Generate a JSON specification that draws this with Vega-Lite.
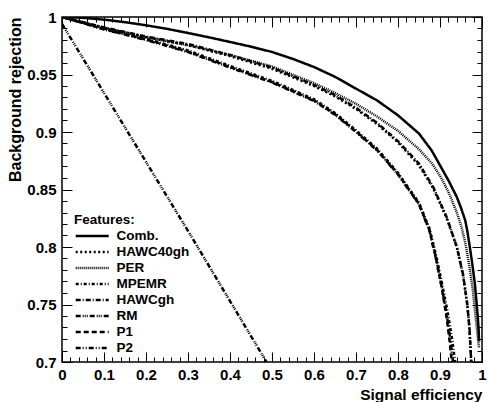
{
  "$schema": "https://vega.github.io/schema/vega-lite/v6.json",
  "autosize": {"type": "none"},
  "width": 420,
  "height": 345,
  "padding": {"left": 62, "top": 17, "right": 7, "bottom": 40},
  "background": "white",
  "config": {
    "font": "Liberation Sans",
    "view": {"stroke": "black", "strokeWidth": 1.5},
    "axis": {"domain": false, "grid": false, "tickColor": "black", "tickWidth": 1, "labelColor": "black", "titleColor": "black", "labelFont": "Liberation Sans", "labelFontWeight": "bold", "labelFontSize": 15, "titleFont": "Liberation Sans", "titleFontWeight": "bold", "titleFontSize": 15.5}
  },
  "datasets": {
    "curves": [
      {"f": "Comb.", "x": 0, "y": 1.0}, {"f": "Comb.", "x": 0.05, "y": 0.9993}, {"f": "Comb.", "x": 0.1, "y": 0.9977}, {"f": "Comb.", "x": 0.15, "y": 0.9955}, {"f": "Comb.", "x": 0.2, "y": 0.9928}, {"f": "Comb.", "x": 0.25, "y": 0.9897}, {"f": "Comb.", "x": 0.3, "y": 0.9861}, {"f": "Comb.", "x": 0.35, "y": 0.9823}, {"f": "Comb.", "x": 0.4, "y": 0.9783}, {"f": "Comb.", "x": 0.45, "y": 0.9742}, {"f": "Comb.", "x": 0.5, "y": 0.9696}, {"f": "Comb.", "x": 0.55, "y": 0.9635}, {"f": "Comb.", "x": 0.6, "y": 0.9565}, {"f": "Comb.", "x": 0.65, "y": 0.948}, {"f": "Comb.", "x": 0.7, "y": 0.9377}, {"f": "Comb.", "x": 0.75, "y": 0.9275}, {"f": "Comb.", "x": 0.8, "y": 0.9145}, {"f": "Comb.", "x": 0.85, "y": 0.8986}, {"f": "Comb.", "x": 0.88, "y": 0.884}, {"f": "Comb.", "x": 0.9, "y": 0.871}, {"f": "Comb.", "x": 0.92, "y": 0.858}, {"f": "Comb.", "x": 0.94, "y": 0.8435}, {"f": "Comb.", "x": 0.95, "y": 0.834}, {"f": "Comb.", "x": 0.96, "y": 0.8232}, {"f": "Comb.", "x": 0.965, "y": 0.814}, {"f": "Comb.", "x": 0.971, "y": 0.8}, {"f": "Comb.", "x": 0.977, "y": 0.785}, {"f": "Comb.", "x": 0.983, "y": 0.768}, {"f": "Comb.", "x": 0.987, "y": 0.752}, {"f": "Comb.", "x": 0.99, "y": 0.739}, {"f": "Comb.", "x": 0.992, "y": 0.728}, {"f": "Comb.", "x": 0.993, "y": 0.718},

      {"f": "HAWC40gh", "x": 0, "y": 1.0}, {"f": "HAWC40gh", "x": 0.05, "y": 0.995}, {"f": "HAWC40gh", "x": 0.1, "y": 0.9905}, {"f": "HAWC40gh", "x": 0.2, "y": 0.9825}, {"f": "HAWC40gh", "x": 0.3, "y": 0.9755}, {"f": "HAWC40gh", "x": 0.4, "y": 0.966}, {"f": "HAWC40gh", "x": 0.5, "y": 0.955}, {"f": "HAWC40gh", "x": 0.6, "y": 0.94}, {"f": "HAWC40gh", "x": 0.65, "y": 0.931}, {"f": "HAWC40gh", "x": 0.7, "y": 0.92}, {"f": "HAWC40gh", "x": 0.75, "y": 0.907}, {"f": "HAWC40gh", "x": 0.8, "y": 0.891}, {"f": "HAWC40gh", "x": 0.85, "y": 0.871}, {"f": "HAWC40gh", "x": 0.884, "y": 0.851}, {"f": "HAWC40gh", "x": 0.916, "y": 0.825}, {"f": "HAWC40gh", "x": 0.94, "y": 0.8}, {"f": "HAWC40gh", "x": 0.955, "y": 0.775}, {"f": "HAWC40gh", "x": 0.965, "y": 0.75}, {"f": "HAWC40gh", "x": 0.97, "y": 0.73}, {"f": "HAWC40gh", "x": 0.973, "y": 0.71}, {"f": "HAWC40gh", "x": 0.9745, "y": 0.7},

      {"f": "PER", "x": 0, "y": 1.0}, {"f": "PER", "x": 0.05, "y": 0.9955}, {"f": "PER", "x": 0.1, "y": 0.9905}, {"f": "PER", "x": 0.2, "y": 0.9825}, {"f": "PER", "x": 0.3, "y": 0.9755}, {"f": "PER", "x": 0.4, "y": 0.967}, {"f": "PER", "x": 0.5, "y": 0.957}, {"f": "PER", "x": 0.6, "y": 0.9425}, {"f": "PER", "x": 0.65, "y": 0.934}, {"f": "PER", "x": 0.7, "y": 0.9245}, {"f": "PER", "x": 0.75, "y": 0.9135}, {"f": "PER", "x": 0.8, "y": 0.901}, {"f": "PER", "x": 0.85, "y": 0.885}, {"f": "PER", "x": 0.88, "y": 0.873}, {"f": "PER", "x": 0.9, "y": 0.862}, {"f": "PER", "x": 0.92, "y": 0.848}, {"f": "PER", "x": 0.94, "y": 0.83}, {"f": "PER", "x": 0.95, "y": 0.819}, {"f": "PER", "x": 0.96, "y": 0.804}, {"f": "PER", "x": 0.97, "y": 0.783}, {"f": "PER", "x": 0.978, "y": 0.763}, {"f": "PER", "x": 0.984, "y": 0.742}, {"f": "PER", "x": 0.989, "y": 0.725}, {"f": "PER", "x": 0.993, "y": 0.712},

      {"f": "MPEMR", "x": 0, "y": 1.0}, {"f": "MPEMR", "x": 0.05, "y": 0.995}, {"f": "MPEMR", "x": 0.1, "y": 0.99}, {"f": "MPEMR", "x": 0.2, "y": 0.981}, {"f": "MPEMR", "x": 0.3, "y": 0.971}, {"f": "MPEMR", "x": 0.4, "y": 0.9575}, {"f": "MPEMR", "x": 0.5, "y": 0.9445}, {"f": "MPEMR", "x": 0.6, "y": 0.9285}, {"f": "MPEMR", "x": 0.65, "y": 0.9165}, {"f": "MPEMR", "x": 0.7, "y": 0.9015}, {"f": "MPEMR", "x": 0.75, "y": 0.8855}, {"f": "MPEMR", "x": 0.8, "y": 0.8645}, {"f": "MPEMR", "x": 0.85, "y": 0.8385}, {"f": "MPEMR", "x": 0.875, "y": 0.816}, {"f": "MPEMR", "x": 0.89, "y": 0.794}, {"f": "MPEMR", "x": 0.905, "y": 0.768}, {"f": "MPEMR", "x": 0.918, "y": 0.744}, {"f": "MPEMR", "x": 0.928, "y": 0.722}, {"f": "MPEMR", "x": 0.936, "y": 0.7},

      {"f": "HAWCgh", "x": 0, "y": 1.0}, {"f": "HAWCgh", "x": 0.05, "y": 0.9955}, {"f": "HAWCgh", "x": 0.1, "y": 0.991}, {"f": "HAWCgh", "x": 0.2, "y": 0.983}, {"f": "HAWCgh", "x": 0.3, "y": 0.9765}, {"f": "HAWCgh", "x": 0.4, "y": 0.967}, {"f": "HAWCgh", "x": 0.5, "y": 0.956}, {"f": "HAWCgh", "x": 0.6, "y": 0.941}, {"f": "HAWCgh", "x": 0.65, "y": 0.932}, {"f": "HAWCgh", "x": 0.7, "y": 0.921}, {"f": "HAWCgh", "x": 0.75, "y": 0.908}, {"f": "HAWCgh", "x": 0.8, "y": 0.892}, {"f": "HAWCgh", "x": 0.85, "y": 0.8725}, {"f": "HAWCgh", "x": 0.884, "y": 0.852}, {"f": "HAWCgh", "x": 0.916, "y": 0.826}, {"f": "HAWCgh", "x": 0.94, "y": 0.8}, {"f": "HAWCgh", "x": 0.955, "y": 0.776}, {"f": "HAWCgh", "x": 0.965, "y": 0.75}, {"f": "HAWCgh", "x": 0.97, "y": 0.73}, {"f": "HAWCgh", "x": 0.973, "y": 0.71}, {"f": "HAWCgh", "x": 0.974, "y": 0.7},

      {"f": "RM", "x": 0, "y": 0.994}, {"f": "RM", "x": 0.1, "y": 0.934}, {"f": "RM", "x": 0.2, "y": 0.874}, {"f": "RM", "x": 0.3, "y": 0.814}, {"f": "RM", "x": 0.4, "y": 0.753}, {"f": "RM", "x": 0.487, "y": 0.7},

      {"f": "P1", "x": 0, "y": 1.0}, {"f": "P1", "x": 0.05, "y": 0.9948}, {"f": "P1", "x": 0.1, "y": 0.9895}, {"f": "P1", "x": 0.2, "y": 0.9805}, {"f": "P1", "x": 0.3, "y": 0.97}, {"f": "P1", "x": 0.4, "y": 0.9565}, {"f": "P1", "x": 0.5, "y": 0.9435}, {"f": "P1", "x": 0.6, "y": 0.9275}, {"f": "P1", "x": 0.65, "y": 0.9155}, {"f": "P1", "x": 0.7, "y": 0.9005}, {"f": "P1", "x": 0.75, "y": 0.8845}, {"f": "P1", "x": 0.8, "y": 0.8635}, {"f": "P1", "x": 0.85, "y": 0.8375}, {"f": "P1", "x": 0.875, "y": 0.8145}, {"f": "P1", "x": 0.89, "y": 0.791}, {"f": "P1", "x": 0.905, "y": 0.763}, {"f": "P1", "x": 0.916, "y": 0.738}, {"f": "P1", "x": 0.923, "y": 0.718}, {"f": "P1", "x": 0.928, "y": 0.7},

      {"f": "P2", "x": 0, "y": 1.0}, {"f": "P2", "x": 0.05, "y": 0.9946}, {"f": "P2", "x": 0.1, "y": 0.9892}, {"f": "P2", "x": 0.2, "y": 0.98}, {"f": "P2", "x": 0.3, "y": 0.9695}, {"f": "P2", "x": 0.4, "y": 0.956}, {"f": "P2", "x": 0.5, "y": 0.943}, {"f": "P2", "x": 0.6, "y": 0.927}, {"f": "P2", "x": 0.65, "y": 0.915}, {"f": "P2", "x": 0.7, "y": 0.9}, {"f": "P2", "x": 0.75, "y": 0.884}, {"f": "P2", "x": 0.8, "y": 0.863}, {"f": "P2", "x": 0.85, "y": 0.837}, {"f": "P2", "x": 0.875, "y": 0.814}, {"f": "P2", "x": 0.89, "y": 0.7905}, {"f": "P2", "x": 0.905, "y": 0.7635}, {"f": "P2", "x": 0.917, "y": 0.739}, {"f": "P2", "x": 0.925, "y": 0.719}, {"f": "P2", "x": 0.931, "y": 0.7}
    ]
  },
  "layer": [
    {
      "data": {"name": "curves"},
      "mark": {"type": "line", "color": "black", "strokeWidth": 2.5, "clip": true},
      "encoding": {
        "x": {"field": "x", "type": "quantitative", "scale": {"domain": [0, 1], "nice": false, "zero": false},
          "axis": {"orient": "bottom", "values": [0, 0.1, 0.2, 0.3, 0.4, 0.5, 0.6, 0.7, 0.8, 0.9, 1], "format": ".1~f", "tickSize": -10, "labelPadding": 15, "labelFlush": false, "title": "Signal efficiency", "titleAnchor": "end", "titleAlign": "right", "titlePadding": 5}},
        "y": {"field": "y", "type": "quantitative", "scale": {"domain": [0.7, 1], "nice": false, "zero": false},
          "axis": {"orient": "left", "values": [0.7, 0.75, 0.8, 0.85, 0.9, 0.95, 1], "format": ".2~f", "tickSize": -10, "labelPadding": 16, "labelFlush": false, "title": "Background rejection", "titleAnchor": "end", "titleAlign": "right", "titleFontSize": 16, "titlePadding": 3}},
        "strokeDash": {"field": "f", "type": "nominal",
          "scale": {"domain": ["Comb.", "HAWC40gh", "PER", "MPEMR", "HAWCgh", "RM", "P1", "P2"],
            "range": [[1, 0], [2, 2.5], [1, 1], [3, 2, 1, 2], [5, 2, 1, 2], [5, 2, 1, 1, 1, 1, 1, 2], [5, 3], [5, 2, 1, 2, 1, 2]]},
          "legend": {"orient": "none", "legendX": 12, "legendY": 196, "title": "Features:", "titleFont": "Liberation Sans", "titleFontSize": 13.5, "titleFontWeight": "bold", "titleColor": "black", "titlePadding": 0, "labelFont": "Liberation Sans", "labelFontSize": 13.5, "labelFontWeight": "bold", "labelColor": "black", "symbolType": "M-1,0H3.23", "symbolSize": 243, "symbolStrokeWidth": 2.5, "symbolStrokeColor": "black", "labelOffset": 23.4, "rowPadding": 0, "padding": 0}}
      }
    },
    {
      "data": {"name": "curves"},
      "mark": {"type": "line", "strokeOpacity": 0},
      "encoding": {
        "x": {"field": "x", "type": "quantitative", "axis": {"orient": "bottom", "values": [0.02, 0.04, 0.06, 0.08, 0.12, 0.14, 0.16, 0.18, 0.22, 0.24, 0.26, 0.28, 0.32, 0.34, 0.36, 0.38, 0.42, 0.44, 0.46, 0.48, 0.52, 0.54, 0.56, 0.58, 0.62, 0.64, 0.66, 0.68, 0.72, 0.74, 0.76, 0.78, 0.82, 0.84, 0.86, 0.88, 0.92, 0.94, 0.96, 0.98], "tickSize": -5, "labels": false, "title": null}},
        "y": {"field": "y", "type": "quantitative", "axis": {"orient": "left", "values": [0.71, 0.72, 0.73, 0.74, 0.76, 0.77, 0.78, 0.79, 0.81, 0.82, 0.83, 0.84, 0.86, 0.87, 0.88, 0.89, 0.91, 0.92, 0.93, 0.94, 0.96, 0.97, 0.98, 0.99], "tickSize": -5, "labels": false, "title": null}}
      }
    },
    {
      "data": {"name": "curves"},
      "mark": {"type": "line", "strokeOpacity": 0},
      "encoding": {
        "x": {"field": "x", "type": "quantitative", "axis": {"orient": "top", "values": [0, 0.1, 0.2, 0.3, 0.4, 0.5, 0.6, 0.7, 0.8, 0.9, 1], "tickSize": -10, "labels": false, "title": null}},
        "y": {"field": "y", "type": "quantitative", "axis": {"orient": "right", "values": [0.7, 0.75, 0.8, 0.85, 0.9, 0.95, 1], "tickSize": -10, "labels": false, "title": null}}
      }
    },
    {
      "data": {"name": "curves"},
      "mark": {"type": "line", "strokeOpacity": 0},
      "encoding": {
        "x": {"field": "x", "type": "quantitative", "axis": {"orient": "top", "values": [0.02, 0.04, 0.06, 0.08, 0.12, 0.14, 0.16, 0.18, 0.22, 0.24, 0.26, 0.28, 0.32, 0.34, 0.36, 0.38, 0.42, 0.44, 0.46, 0.48, 0.52, 0.54, 0.56, 0.58, 0.62, 0.64, 0.66, 0.68, 0.72, 0.74, 0.76, 0.78, 0.82, 0.84, 0.86, 0.88, 0.92, 0.94, 0.96, 0.98], "tickSize": -5, "labels": false, "title": null}},
        "y": {"field": "y", "type": "quantitative", "axis": {"orient": "right", "values": [0.71, 0.72, 0.73, 0.74, 0.76, 0.77, 0.78, 0.79, 0.81, 0.82, 0.83, 0.84, 0.86, 0.87, 0.88, 0.89, 0.91, 0.92, 0.93, 0.94, 0.96, 0.97, 0.98, 0.99], "tickSize": -5, "labels": false, "title": null}}
      }
    }
  ],
  "resolve": {"axis": {"x": "independent", "y": "independent"}}
}
